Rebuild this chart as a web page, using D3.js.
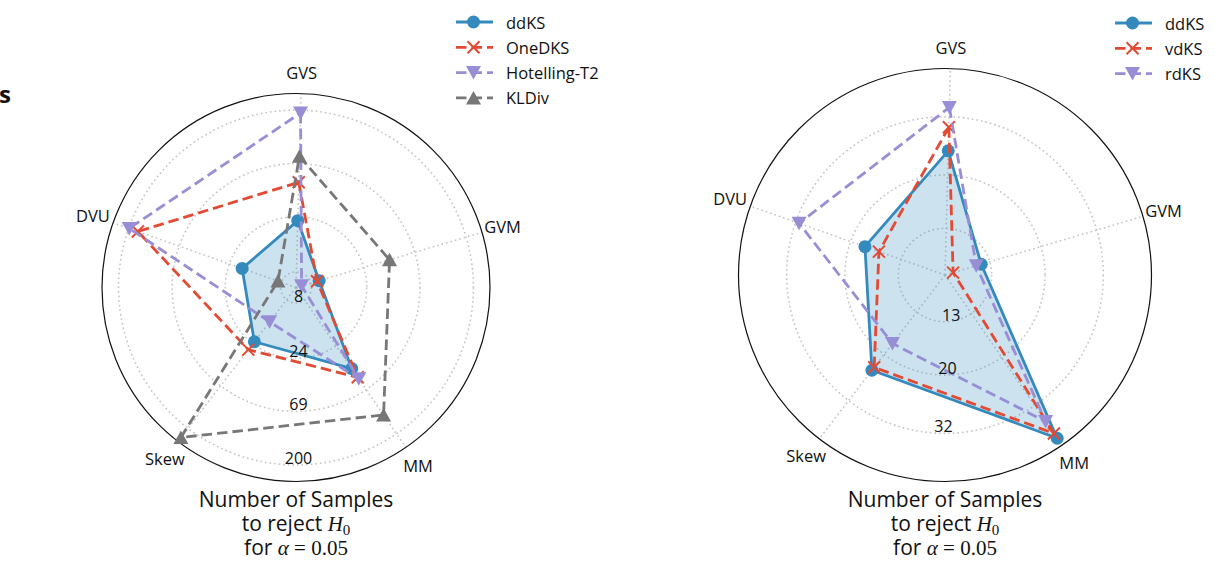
<!DOCTYPE html>
<meta charset="utf-8">
<style>
body { margin: 0; background: #fff; }
svg text { font-family: "Open Sans", "Noto Sans", sans-serif; fill: #111; }
.math { font-family: "Liberation Serif", "DejaVu Serif", serif; }
</style>
<body>
<div id="chart"></div>
<script src="https://d3js.org/d3.v7.min.js"></script>
<script>

// categories, clockwise from the top
var categories = ["GVS", "GVM", "MM", "Skew", "DVU"];

// left panel
var leftNames = ["ddKS", "OneDKS", "Hotelling-T2", "KLDiv"];
var leftDdKS = [22.2, 9.5, 41.6, 22.9, 18.3];
var leftOneDKS = [47.6, 9.1, 51.3, 27.9, 165];
var leftHotelling = [189, 6.6, 53.2, 13.9, 198];
var leftKLDiv = [79.8, 40.9, 127, 252, 8.6];
var leftTicks = [8, 24, 69, 200];

// right panel
var rightNames = ["ddKS", "vdKS", "rdKS"];
var rightDdKS = [24.3, 12.1, 44.1, 23.5, 17.7];
var rightVdKS = [29.4, 9.55, 42.1, 22.8, 15.7];
var rightRdKS = [34.5, 11.6, 37.4, 17.9, 31.1];
var rightTicks = [13, 20, 32];

var blue = "#348ABD", red = "#E24A33", purple = "#988ED5", grey = "#777777";

var svg = d3.select("#chart").append("svg")
  .attr("width", 1230)
  .attr("height", 579);

// the big title is cut off by the figure edge, only its last letter shows
svg.append("text")
  .attr("x", -1).attr("y", 103)
  .style("font-size", "24px")
  .style("font-weight", "bold")
  .style("fill", "#111")
  .text("s");

function markerPath(kind) {
  if (kind == "x") return "M-6,-6L6,6M-6,6L6,-6";
  if (kind == "down") return "M0,7L-7.5,-6.5L7.5,-6.5Z";
  if (kind == "up") return "M0,-7L-7.5,6.5L7.5,6.5Z";
  return null;
}

function drawMarker(g, kind, color, x, y) {
  if (kind == "circle") {
    g.append("circle").attr("cx", x).attr("cy", y).attr("r", 6.5).attr("fill", color);
  } else if (kind == "x") {
    g.append("path").attr("d", markerPath(kind))
      .attr("transform", "translate(" + x + "," + y + ")")
      .attr("fill", "none").attr("stroke", color).attr("stroke-width", 2);
  } else {
    g.append("path").attr("d", markerPath(kind))
      .attr("transform", "translate(" + x + "," + y + ")")
      .attr("fill", color);
  }
}

function radar(opt) {
  var g = svg.append("g").attr("transform", "translate(" + opt.cx + "," + opt.cy + ")");
  var R = opt.radius;
  var r = d3.scaleLog().domain(opt.domain).range([0, R]).clamp(true);

  // axis angle, slightly rotated as in the original
  var ang = d3.scaleLinear().domain([0, 1]).range([88.5 * Math.PI / 180, (88.5 - 72) * Math.PI / 180]);
  function px(i, v) { return r(v) * Math.cos(ang(i)); }
  function py(i, v) { return -r(v) * Math.sin(ang(i)); }

  // grid rings
  g.selectAll(".ring").data(opt.ticks).enter().append("circle")
    .attr("r", function(d) { return r(d); })
    .attr("fill", "none")
    .attr("stroke", "#c4c4c4")
    .attr("stroke-width", 1.6)
    .attr("stroke-dasharray", "1.6,3");

  // spokes
  g.selectAll(".spoke").data(categories).enter().append("line")
    .attr("x1", 0).attr("y1", 0)
    .attr("x2", function(d, i) { return R * Math.cos(ang(i)); })
    .attr("y2", function(d, i) { return -R * Math.sin(ang(i)); })
    .attr("stroke", "#c4c4c4")
    .attr("stroke-width", 1.6)
    .attr("stroke-dasharray", "1.6,3");

  // outer spine
  g.append("circle").attr("r", R).attr("fill", "none").attr("stroke", "#111").attr("stroke-width", 1.2);

  // category labels
  g.selectAll(".cat").data(categories).enter().append("text")
    .attr("x", function(d, i) { return (R + 21.5) * Math.cos(ang(i)); })
    .attr("y", function(d, i) { return -(R + 21.5) * Math.sin(ang(i)); })
    .attr("text-anchor", "middle")
    .attr("dominant-baseline", "central")
    .style("font-size", "16.5px")
    .text(function(d) { return d; });

  var line = d3.line()
    .x(function(d, i) { return px(i, d); })
    .y(function(d, i) { return py(i, d); })
    .curve(d3.curveLinearClosed);

  // filled polygon for the first series only
  g.append("path").attr("d", line(opt.series[0].values))
    .attr("fill", blue).attr("fill-opacity", 0.25).attr("stroke", "none");

  opt.series.forEach(function(s) {
    g.append("path").attr("d", line(s.values))
      .attr("fill", "none")
      .attr("stroke", s.color)
      .attr("stroke-width", 2.8)
      .attr("stroke-linejoin", "round")
      .attr("stroke-dasharray", s.dashed ? "10.5,5" : null);
    s.values.forEach(function(v, i) {
      drawMarker(g, s.marker, s.color, px(i, v), py(i, v));
    });
  });

  // radial tick labels
  var la = opt.labelAngle * Math.PI / 180;
  g.selectAll(".tick").data(opt.ticks).enter().append("text")
    .attr("x", function(d) { return opt.labelDx + (r(d) - 7) * Math.cos(la); })
    .attr("y", function(d) { return -(r(d) - 7) * Math.sin(la); })
    .attr("text-anchor", "middle")
    .attr("dominant-baseline", "central")
    .style("font-size", "16px")
    .text(function(d) { return d; });

  // legend
  var lg = svg.append("g").attr("transform", "translate(" + opt.legendX + "," + opt.legendY + ")");
  opt.series.forEach(function(s, k) {
    var y = k * 25.3;
    lg.append("line").attr("x1", 0).attr("x2", 37).attr("y1", y).attr("y2", y)
      .attr("stroke", s.color).attr("stroke-width", 2.8)
      .attr("stroke-dasharray", s.dashed ? "10.5,5" : null);
    drawMarker(lg, s.marker, s.color, 17.5, y);
    lg.append("text").attr("x", 50).attr("y", y)
      .attr("dominant-baseline", "central")
      .style("font-size", "16.5px")
      .text(s.name);
  });

  // caption
  var cap = svg.append("g").attr("transform", "translate(" + opt.cx + ",0)");
  cap.append("text").attr("x", 0).attr("y", 507).attr("text-anchor", "middle")
    .style("font-size", "21px").text("Number of Samples");
  var t2 = cap.append("text").attr("x", 0).attr("y", 531).attr("text-anchor", "middle").style("font-size", "21px");
  t2.append("tspan").text("to reject ");
  t2.append("tspan").attr("class", "math").style("font-style", "italic").style("font-size", "21px").text("H");
  t2.append("tspan").attr("class", "math").attr("dy", 4).style("font-size", "15px").text("0");
  var t3 = cap.append("text").attr("x", 0).attr("y", 555).attr("text-anchor", "middle").style("font-size", "21px");
  t3.append("tspan").text("for ");
  t3.append("tspan").attr("class", "math").style("font-style", "italic").style("font-size", "21px").text("α");
  t3.append("tspan").attr("class", "math").style("font-size", "21px").text(" = 0.05");
}

radar({
  cx: 296, cy: 287.5, radius: 194,
  domain: [5.88, 278],
  ticks: leftTicks,
  labelAngle: -90, labelDx: 2.5,
  legendX: 456, legendY: 22,
  series: [
    {name: leftNames[0], values: leftDdKS, color: blue, marker: "circle", dashed: false},
    {name: leftNames[1], values: leftOneDKS, color: red, marker: "x", dashed: true},
    {name: leftNames[2], values: leftHotelling, color: purple, marker: "down", dashed: true},
    {name: leftNames[3], values: leftKLDiv, color: grey, marker: "up", dashed: true}
  ]
});

radar({
  cx: 945, cy: 275, radius: 206.5,
  domain: [8.92, 47.2],
  ticks: rightTicks,
  labelAngle: -94, labelDx: 9,
  legendX: 1115, legendY: 23,
  series: [
    {name: rightNames[0], values: rightDdKS, color: blue, marker: "circle", dashed: false},
    {name: rightNames[1], values: rightVdKS, color: red, marker: "x", dashed: true},
    {name: rightNames[2], values: rightRdKS, color: purple, marker: "down", dashed: true}
  ]
});

</script>
</body>
